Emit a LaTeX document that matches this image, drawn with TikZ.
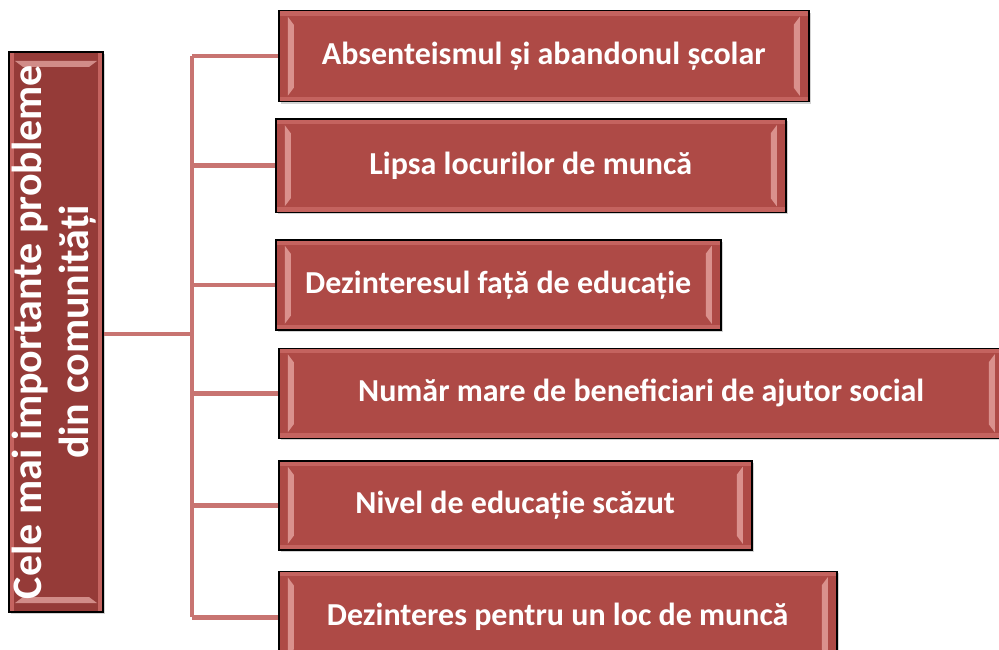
\documentclass[tikz,border=0pt]{standalone}
\usepackage{fontspec}
\setmainfont{Carlito}
\usetikzlibrary{positioning,shadows}

\definecolor{probred}{HTML}{AE4A46}
\definecolor{titlered}{HTML}{953B38}
\definecolor{linkred}{HTML}{C87471}
\definecolor{bevelpink}{HTML}{F2B8B4}
\definecolor{edgered}{HTML}{C4635F}

\tikzset{
  bevel/.style={path picture={
      \fill[edgered] (path picture bounding box.north west) rectangle
                     ([yshift=-5pt]path picture bounding box.north east);
      \fill[edgered] (path picture bounding box.south west) rectangle
                     ([yshift=5pt]path picture bounding box.south east);
      \fill[bevelpink,opacity=.65]
        ([shift={(9pt,-6pt)}]path picture bounding box.north west) -- ++(6pt,-8pt)
        -- ([shift={(15pt,14pt)}]path picture bounding box.south west) -- ++(-6pt,-8pt) -- cycle;
      \fill[bevelpink,opacity=.65]
        ([shift={(-9pt,-6pt)}]path picture bounding box.north east) -- ++(-6pt,-8pt)
        -- ([shift={(-15pt,14pt)}]path picture bounding box.south east) -- ++(6pt,-8pt) -- cycle;
  }},
  titlebevel/.style={path picture={
      \fill[edgered] (path picture bounding box.north west) rectangle
                     ([xshift=5pt]path picture bounding box.south west);
      \fill[edgered] (path picture bounding box.north east) rectangle
                     ([xshift=-5pt]path picture bounding box.south east);
      \fill[bevelpink,opacity=.65]
        ([shift={(6pt,-9pt)}]path picture bounding box.north west) -- ++(8pt,-6pt)
        -- ([shift={(-14pt,-15pt)}]path picture bounding box.north east) -- ++(8pt,6pt) -- cycle;
      \fill[bevelpink,opacity=.65]
        ([shift={(6pt,9pt)}]path picture bounding box.south west) -- ++(8pt,6pt)
        -- ([shift={(-14pt,15pt)}]path picture bounding box.south east) -- ++(8pt,-6pt) -- cycle;
  }},
  prob/.style={draw=black,line width=1.5pt,fill=probred,text=white,bevel,
    drop shadow={shadow xshift=2pt,shadow yshift=-2pt,opacity=.35},
    font=\fontsize{32}{36}\selectfont\bfseries,inner sep=0pt},
  titlebox/.style={draw=black,line width=1.5pt,fill=titlered,text=white,titlebevel,
    drop shadow={shadow xshift=2pt,shadow yshift=-2pt,opacity=.35},
    font=\fontsize{42}{47}\selectfont\bfseries,inner sep=0pt},
  link/.style={draw=linkred,line width=4.5pt}
}

\begin{document}
\begin{tikzpicture}[x=1pt,y=-1pt]
    \useasboundingbox (0,0) rectangle (999,650);
    \node[titlebox,minimum width=92pt,minimum height=560pt] (title) at (56,332)
        {\rotatebox{90}{\begin{tabular}{@{}c@{}}Cele mai importante probleme\\din comunități\end{tabular}}};

    \node[prob,anchor=north west,minimum width=530pt,minimum height=91pt] (absent) at (278,10)
        {Absenteismul și abandonul școlar};
    \node[prob,minimum width=510pt,minimum height=93pt] (locuri)
        [below right=16pt and -3pt of absent.south west] {Lipsa locurilor de muncă};
    \node[prob,minimum width=445pt,minimum height=90pt] (dezint)
        [below right=26pt and 0pt of locuri.south west] {Dezinteresul față de educație};
    \node[prob,minimum width=725pt,minimum height=90pt] (ajutor)
        [below right=17pt and 3pt of dezint.south west] {Număr mare de beneficiari de ajutor social};
    \node[prob,minimum width=473pt,minimum height=89pt] (nivel)
        [below right=21pt and 0pt of ajutor.south west] {Nivel de educație scăzut};
    \node[prob,minimum width=558pt,minimum height=92pt] (munca)
        [below right=20pt and 0pt of nivel.south west] {Dezinteres pentru un loc de muncă};

    \coordinate (trunk) at ([xshift=88pt,yshift=-2pt]title.east);
    \draw[link] (title.east |- trunk) -- (trunk);
    \draw[link] (trunk |- absent.west) -- (trunk |- munca.west);
    \foreach \pb in {absent,locuri,dezint,ajutor,nivel,munca}
        \draw[link] (trunk |- \pb.west) -- (\pb.west);
\end{tikzpicture}
\end{document}
